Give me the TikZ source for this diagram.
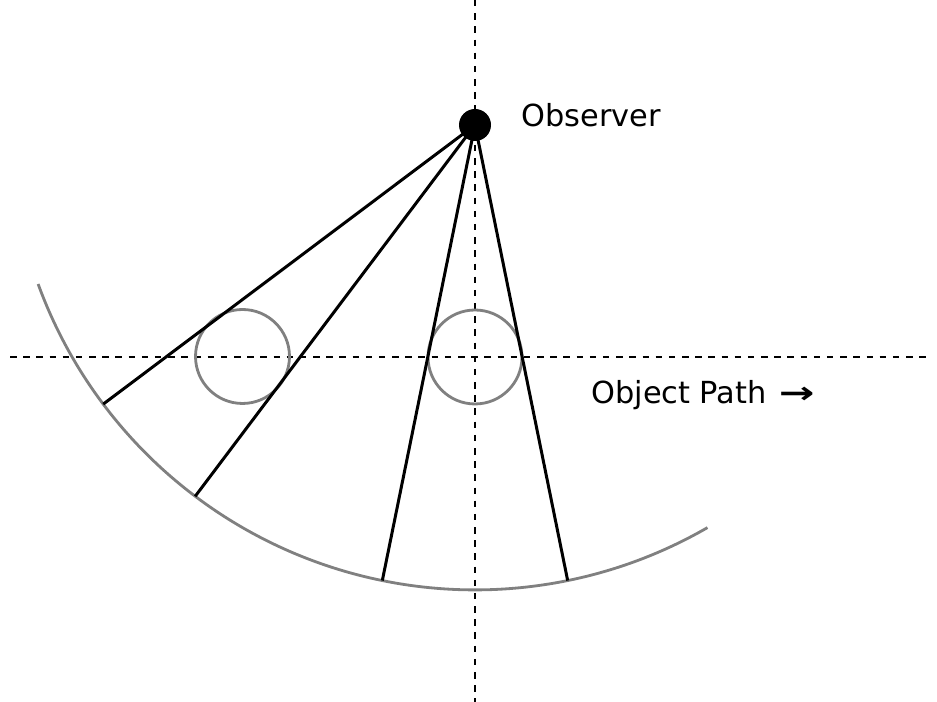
\documentclass[tikz,border=0pt]{standalone}
\usepackage{graphicx}
\usepackage{fontspec}
\setmainfont{DejaVu Sans}
\begin{document}
\begin{tikzpicture}[x=0.02cm,y=0.02cm,
  guide/.style={black, line width=0.75pt, dash pattern=on 3.7pt off 3.8pt},
  ray/.style={black, line width=1.7pt},
  arcline/.style={gray, line width=1.6pt},
  ball/.style={circle, draw=gray, line width=1.6pt, minimum size=1.88cm, inner sep=0pt},
  lbl/.style={font=\fontsize{17.3}{20}\selectfont, anchor=west, inner sep=0pt}]
\useasboundingbox (0,0) rectangle (937,702);
% guide lines
\coordinate (vt) at (475,702);
\coordinate (vb) at (475,0);
\coordinate (hl) at (10,345);
\coordinate (hr) at (932,345);
\draw[guide] (vt) -- (vb);
\draw[guide] (hl) -- (hr);
% observer
\coordinate (O) at (475,577);
% arc
\draw[arcline] ([shift={(200:9.3cm)}]O) arc[start angle=200, end angle=300, radius=9.3cm];
% objects
\node[ball] (c1) at (242.5,345.5) {};
\node[ball] (c2) at (475,345) {};
% rays
\coordinate (A1) at ([shift={(216.9:9.3cm)}]O);
\coordinate (A2) at ([shift={(233.0:9.3cm)}]O);
\coordinate (A3) at ([shift={(258.5:9.3cm)}]O);
\coordinate (A4) at ([shift={(281.5:9.3cm)}]O);
\draw[ray] (O) -- (A1);
\draw[ray] (O) -- (A2);
\draw[ray] (O) -- (A3);
\draw[ray] (O) -- (A4);
\node[circle, fill=black, minimum size=0.64cm, inner sep=0pt] (obs) at (O) {};
% labels
\node[lbl] (tObs) at (521,587) {Observer};
\node[lbl] (tPath) at (591,307) {Object Path\hspace{0.08em} {\bfseries\scalebox{1.4}[1]{→}}};
\end{tikzpicture}
\end{document}
